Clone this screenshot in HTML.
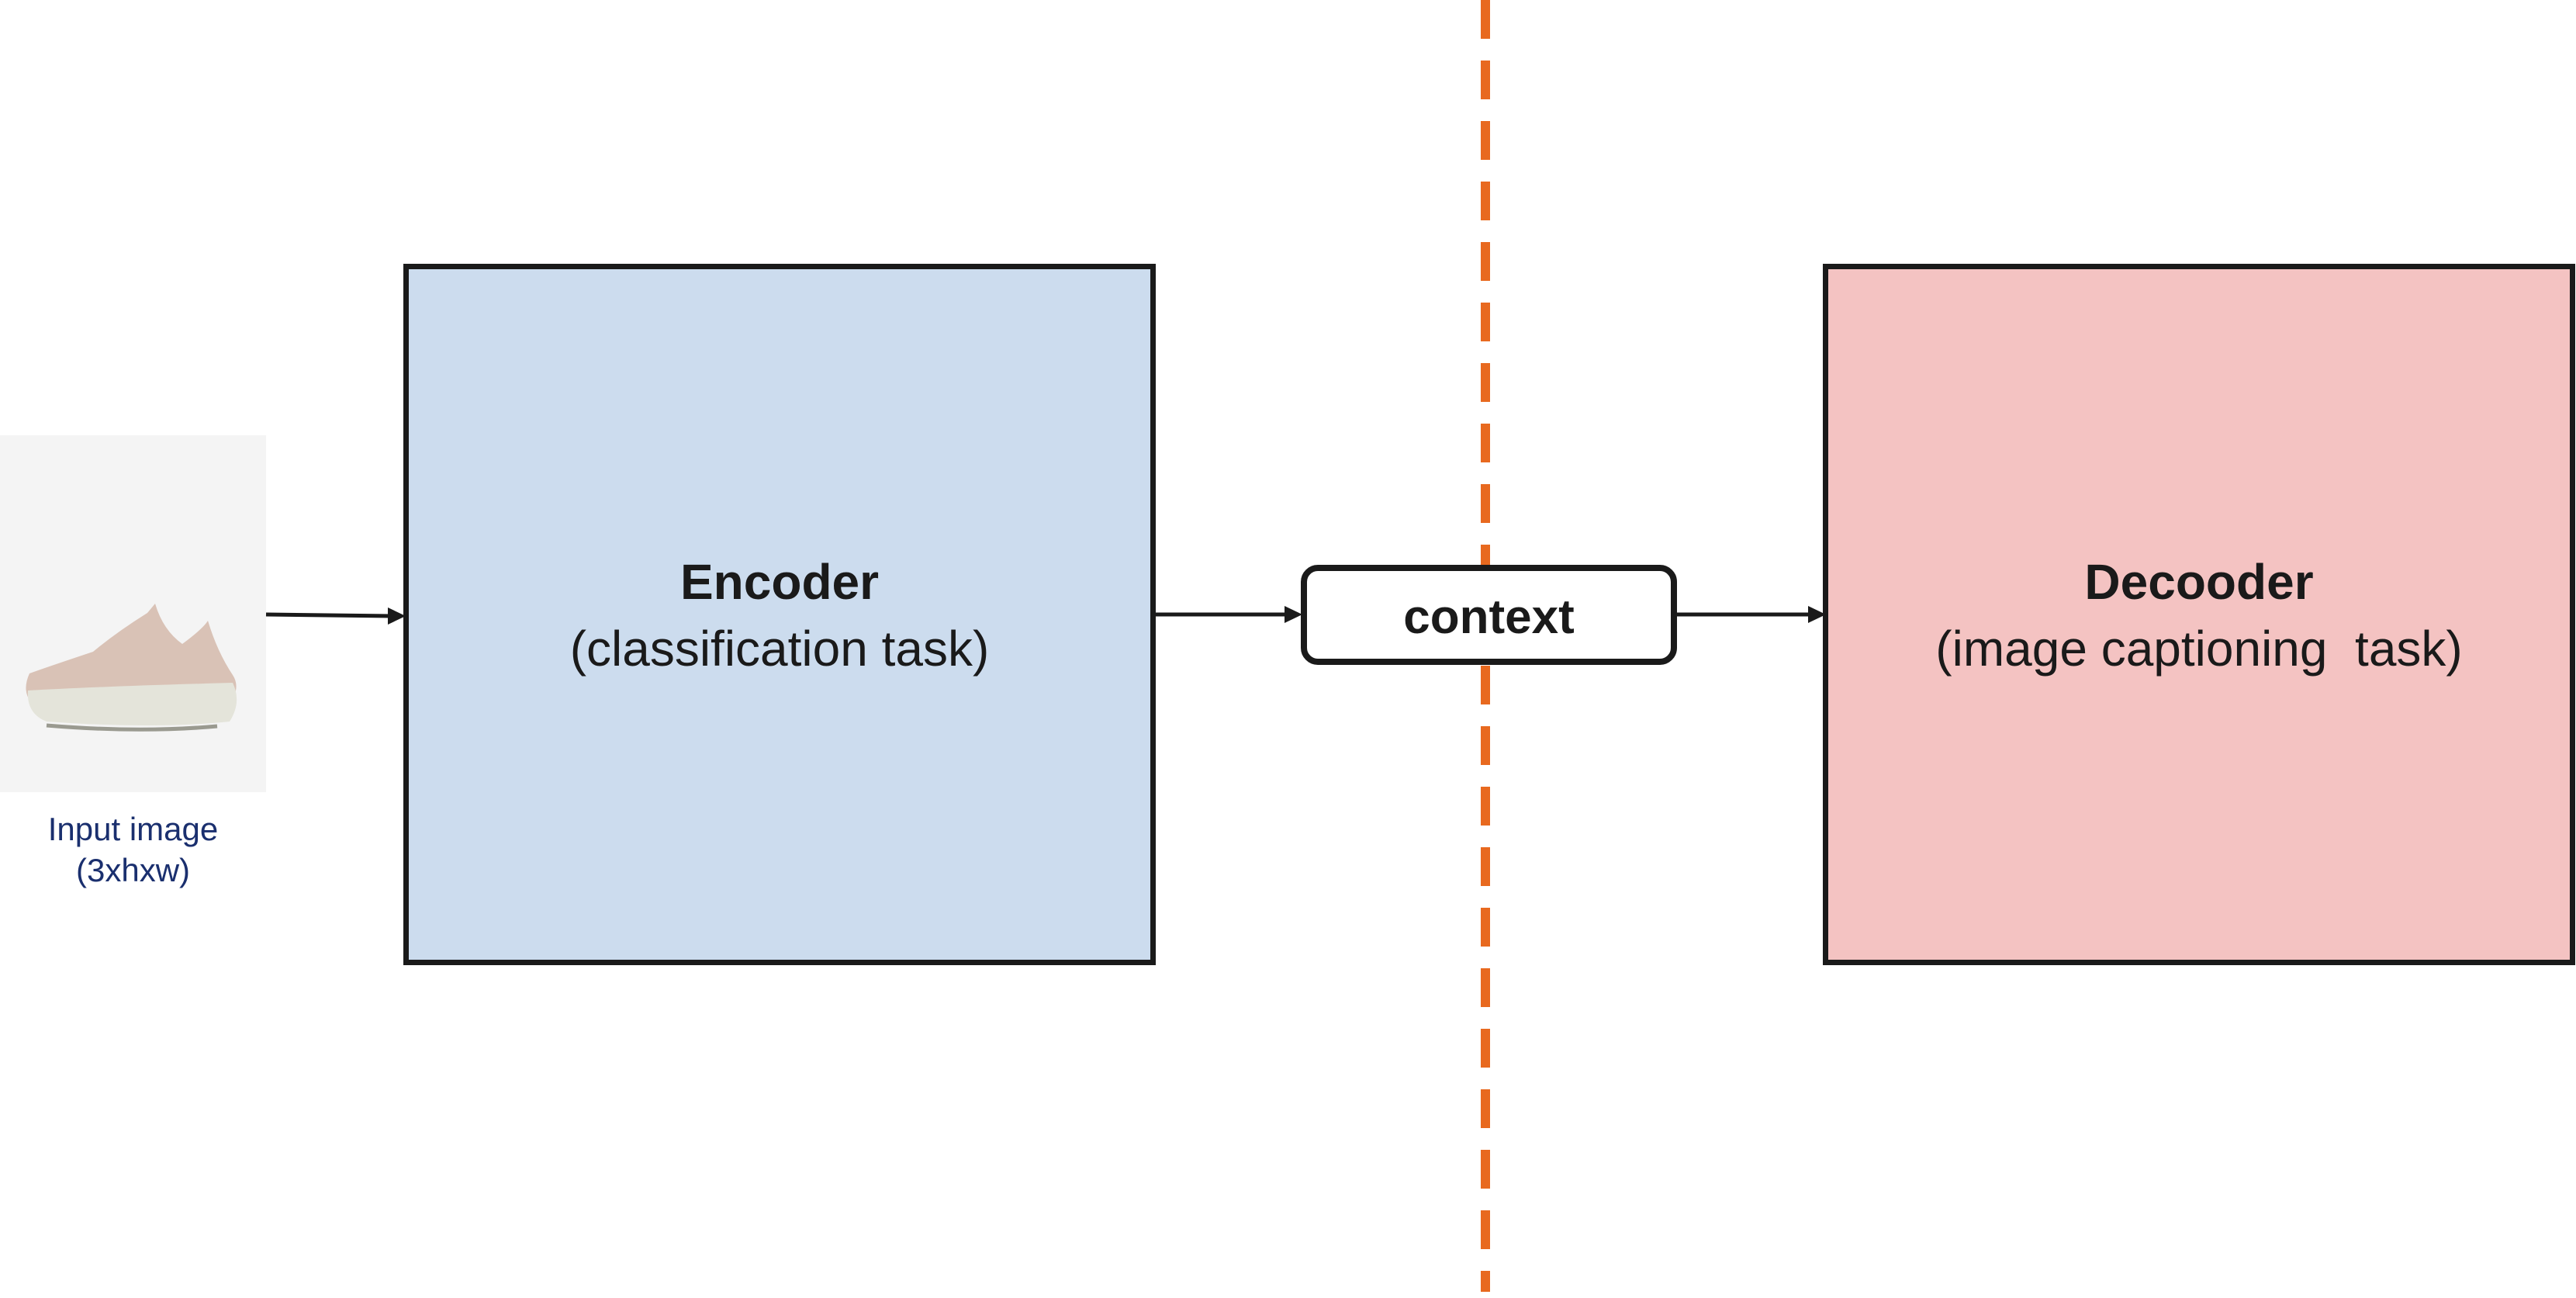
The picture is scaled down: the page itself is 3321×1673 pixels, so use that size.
<!DOCTYPE html>
<html><head><meta charset="utf-8"><style>
html,body{margin:0;padding:0;background:#fff;}
body{width:3321px;height:1673px;position:relative;overflow:hidden;font-family:"Liberation Sans",sans-serif;}
.box{position:absolute;box-sizing:border-box;border:7px solid #1a1a1a;}
.t{position:absolute;text-align:center;width:100%;left:0;}
</style></head><body>
<svg width="3321" height="1673" style="position:absolute;left:0;top:0">
  <line x1="1915" y1="0" x2="1915" y2="1665" stroke="#e8691f" stroke-width="12" stroke-dasharray="50,28"/>
  <rect x="0" y="561" width="343" height="460" fill="#f4f4f4"/>
  <path d="M38 868 Q60 860 120 840 Q150 815 190 790 L200 778 Q210 812 235 830 Q262 810 268 800 Q280 840 300 870 Q310 885 298 905 L40 905 Q28 890 38 868 Z" fill="#d9c2b6"/>
  <path d="M36 890 Q120 885 300 880 Q312 905 296 930 Q200 940 60 930 Q34 920 36 890Z" fill="#e4e4da"/>
  <path d="M60 935 Q180 945 280 936" stroke="#9a9a90" stroke-width="5" fill="none"/>
  <g stroke="#1a1a1a" stroke-width="5" fill="#1a1a1a">
    <line x1="343" y1="792" x2="505" y2="794"/>
    <polygon points="523,794 500,783 500,805" stroke="none"/>
    <line x1="1487" y1="792" x2="1660" y2="792"/>
    <polygon points="1679,792 1656,781 1656,803" stroke="none"/>
    <line x1="2160" y1="792" x2="2335" y2="792"/>
    <polygon points="2354,792 2331,781 2331,803" stroke="none"/>
  </g>
</svg>
<div class="t" style="width:343px;top:1042px;font-size:42px;color:#1a2f6e;line-height:53px;">Input image<br>(3xhxw)</div>
<div class="box" style="left:520px;top:340px;width:970px;height:904px;background:#ccdcee;">
  <div class="t" style="top:360px;font-size:64px;line-height:86px;color:#1a1a1a;"><b>Encoder</b><br>(classification task)</div>
</div>
<div class="box" style="left:2350px;top:340px;width:970px;height:904px;background:#f4c3c2;">
  <div class="t" style="top:360px;font-size:64px;line-height:86px;color:#1a1a1a;"><b>Decooder</b><br>(image captioning&nbsp; task)</div>
</div>
<div class="box" style="left:1677px;top:728px;width:485px;height:129px;background:#fff;border-radius:22px;border-width:8px;">
  <div class="t" style="top:24px;font-size:62px;font-weight:bold;color:#1a1a1a;line-height:72px;">context</div>
</div>
</body></html>
